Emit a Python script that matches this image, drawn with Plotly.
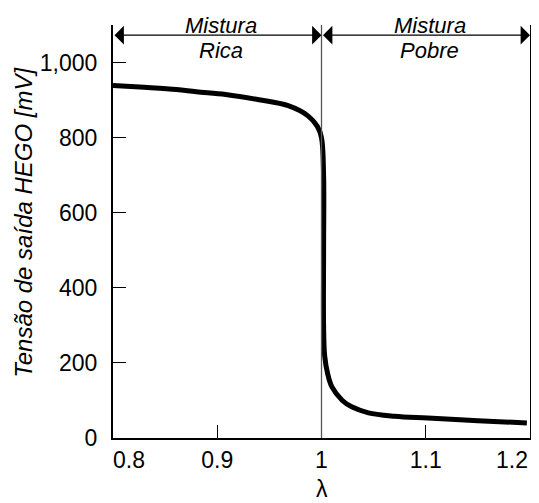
import plotly.graph_objects as go

# Curve data
lam = [0.800, 0.830, 0.861, 0.880, 0.908, 0.940, 0.968, 0.987, 0.996, 1.000,
       1.002, 1.002, 1.002, 1.003, 1.006, 1.010, 1.020, 1.029, 1.045, 1.070,
       1.102, 1.150, 1.197]
mv = [939, 934, 928, 922, 915, 901, 885, 858, 830, 800,
      700, 500, 300, 220, 170, 136, 100, 83, 67, 58,
      53, 46, 40]

x_ticks = [0.8, 0.9, 1.0, 1.1, 1.2]
x_tick_labels = ["0.8", "0.9", "1", "1.1", "1.2"]
y_ticks = [0, 200, 400, 600, 800, 1000]
y_tick_labels = ["0", "200", "400", "600", "800", "1,000"]

region_top = ["Mistura", "Mistura"]
region_bottom = ["Rica", "Pobre"]
region_bounds = [(0.8, 1.0), (1.0, 1.2)]

x_title = "λ"
y_title = "Tensão de saída HEGO [mV]"

FONT = "Liberation Sans, Arial, Helvetica, sans-serif"
TICK_SIZE = 23

fig = go.Figure()
fig.add_trace(go.Scatter(x=lam, y=mv, mode="lines",
                         line=dict(color="black", width=5, shape="spline", smoothing=1.0),
                         hoverinfo="skip", showlegend=False))

# vertical reference line at lambda = 1
fig.add_shape(type="line", x0=1.0, x1=1.0, y0=0, y1=1, xref="x", yref="paper",
              line=dict(color="#555", width=1.3))

arrow_y = 1073
annotations = []
for (a, b), top, bottom in zip(region_bounds, region_top, region_bottom):
    annotations.append(dict(x=b, y=arrow_y, ax=a, ay=arrow_y, xref="x", yref="y",
                            axref="x", ayref="y", showarrow=True, arrowhead=1,
                            arrowside="end+start", arrowsize=2.6, arrowwidth=1.2,
                            arrowcolor="black", text=""))
    mid = (a + b) / 2 + 0.004
    annotations.append(dict(x=mid, y=1.0, xref="x", yref="paper", text="<i>" + top + "</i>",
                            showarrow=False, yanchor="middle",
                            font=dict(family=FONT, size=22, color="black")))
    annotations.append(dict(x=mid, y=0.939, xref="x", yref="paper", text="<i>" + bottom + "</i>",
                            showarrow=False, yanchor="middle",
                            font=dict(family=FONT, size=22, color="black")))

# end tick labels sit inside the plot width (as in the reference)
tick_text_axis = [t if v not in (x_ticks[0], x_ticks[-1]) else "" for v, t in zip(x_ticks, x_tick_labels)]
for v, t, anchor in ((x_ticks[0], x_tick_labels[0], "left"), (x_ticks[-1], x_tick_labels[-1], "right")):
    annotations.append(dict(x=v, y=0, xref="x", yref="paper", text=t, showarrow=False,
                            xanchor=anchor, yanchor="middle", yshift=-22,
                            xshift=-2 if anchor == "left" else 0,
                            font=dict(family=FONT, size=TICK_SIZE, color="black")))

# y-axis title (placed slightly above the domain centre, as in the reference)
annotations.append(dict(x=-0.215, y=0.522, xref="paper", yref="paper",
                        text="<i>" + y_title + "</i>", textangle=-90, showarrow=False,
                        xanchor="center", yanchor="middle",
                        font=dict(family=FONT, size=24, color="black")))

# x-axis title
annotations.append(dict(x=0.5, y=0, xref="paper", yref="paper", text=x_title,
                        showarrow=False, xanchor="center", yanchor="middle", yshift=-51,
                        font=dict(family=FONT, size=23, color="black")))

# page body has an 8px margin: compensate in figure size and margins
fig.update_layout(
    width=523, height=495,
    margin=dict(l=105, r=1, t=17, b=65),
    paper_bgcolor="white", plot_bgcolor="white",
    font=dict(family=FONT, size=TICK_SIZE, color="black"),
    annotations=annotations,
    xaxis=dict(range=[0.8, 1.2], tickvals=x_ticks, ticktext=tick_text_axis,
               ticks="inside", ticklen=13, tickwidth=1.2, tickcolor="black",
               ticklabelstandoff=0, automargin=False,
               showline=True, linecolor="black", linewidth=2, mirror=False,
               showgrid=False, zeroline=False),
    yaxis=dict(range=[0, 1100], tickvals=y_ticks, ticktext=y_tick_labels,
               ticks="inside", ticklen=13, tickwidth=1.2, tickcolor="black",
               ticklabelstandoff=9, automargin=False,
               showline=True, linecolor="black", linewidth=2, mirror=True,
               showgrid=False, zeroline=False),
)

fig.write_html("out.html")
